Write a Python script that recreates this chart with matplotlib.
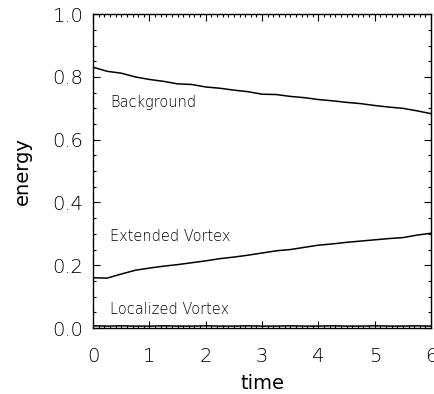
import numpy as np
import matplotlib
matplotlib.use('Agg')
import matplotlib.pyplot as plt
from matplotlib.ticker import MultipleLocator

# Data
time = [0, 0.25, 0.5, 0.75, 1.0, 1.25, 1.5, 1.75, 2.0, 2.25, 2.5, 2.75, 3.0,
        3.25, 3.5, 3.75, 4.0, 4.25, 4.5, 4.75, 5.0, 5.25, 5.5, 5.75, 6.0]
background = [0.831, 0.818, 0.812, 0.800, 0.792, 0.786, 0.778, 0.776, 0.768,
              0.764, 0.758, 0.753, 0.745, 0.744, 0.738, 0.734, 0.728, 0.724,
              0.719, 0.715, 0.709, 0.704, 0.700, 0.692, 0.683]
extended = [0.160, 0.159, 0.172, 0.184, 0.191, 0.197, 0.202, 0.208, 0.214,
            0.221, 0.226, 0.232, 0.239, 0.246, 0.250, 0.257, 0.264, 0.268,
            0.273, 0.277, 0.281, 0.285, 0.288, 0.296, 0.302]
localized = [0.007, 0.006, 0.007, 0.006, 0.006, 0.007, 0.006, 0.006, 0.007,
             0.006, 0.006, 0.007, 0.006, 0.006, 0.007, 0.006, 0.006, 0.007,
             0.006, 0.006, 0.007, 0.006, 0.006, 0.007, 0.006]

labels = ['Background', 'Extended Vortex', 'Localized Vortex']
label_pos = [(0.30, 0.717), (0.30, 0.293), (0.30, 0.06)]

plt.rcParams['font.family'] = ['DejaVu Sans']
plt.rcParams['font.weight'] = 'light'

fig = plt.figure(figsize=(4.35, 3.94), dpi=100)
ax = fig.add_axes([0.214, 0.1675, 0.777, 0.7965])

for series in (background, extended, localized):
    ax.plot(time, series, color='black', lw=1.1)

for text, (x, y) in zip(labels, label_pos):
    ax.text(x, y, text, fontsize=10.5, color='black', va='center', ha='left')

ax.set_xlim(0, 6)
ax.set_ylim(0, 1.0)
ax.xaxis.set_major_locator(MultipleLocator(1))
ax.xaxis.set_minor_locator(MultipleLocator(0.1))
ax.yaxis.set_major_locator(MultipleLocator(0.2))
ax.yaxis.set_minor_locator(MultipleLocator(0.05))
ax.yaxis.set_major_formatter(plt.FormatStrFormatter('%.1f'))
ax.tick_params(which='both', direction='in', top=True, right=True, labelsize=14, width=0.8)
ax.tick_params(which='major', length=5)
ax.tick_params(which='minor', length=2.5)
ax.tick_params(axis='x', pad=14)
ax.tick_params(axis='y', pad=7)
for sp in ax.spines.values():
    sp.set_linewidth(1.0)

ax.set_xlabel('time', fontsize=14, va='center')
ax.set_ylabel('energy', fontsize=14, va='center')
ax.xaxis.set_label_coords(0.5, -0.178)
ax.yaxis.set_label_coords(-0.21, 0.5)

fig.savefig('out.png', dpi=100)
